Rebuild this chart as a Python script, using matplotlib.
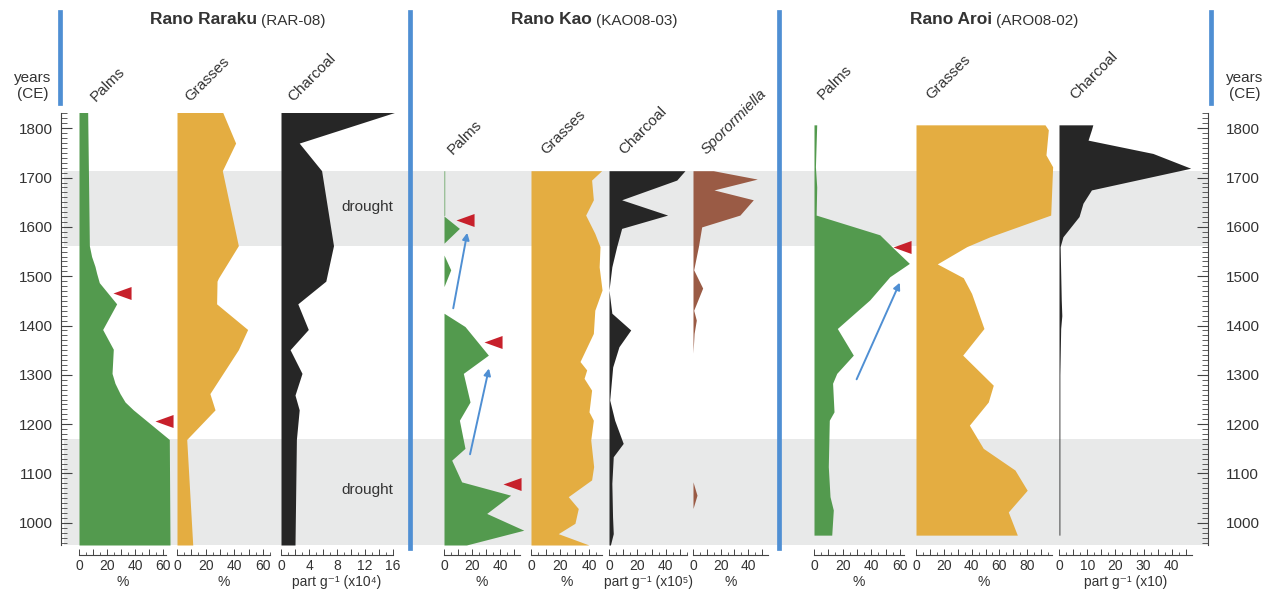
import numpy as np
import matplotlib.pyplot as plt
from matplotlib.lines import Line2D
from matplotlib.ticker import FuncFormatter

plt.rcParams['font.family'] = ['Liberation Sans', 'DejaVu Sans']

W, H = 1271, 591
YLIM = (955, 1831)

# Rano Raraku (RAR-08), years CE from top to bottom
rr_palm_yr = [1832, 1562, 1540, 1520, 1506, 1487, 1444, 1392, 1352, 1303, 1283, 1262, 1245, 1229, 1169, 955]
rr_palm = [6.2, 7.4, 9.0, 11.4, 12.6, 14.5, 26.9, 16.9, 24.5, 23.6, 25.7, 29.3, 32.9, 38.8, 64.5, 65.0]
rr_grass_yr = [1832, 1770, 1714, 1562, 1496, 1490, 1444, 1392, 1351, 1262, 1229, 1169, 955]
rr_grass = [32.0, 41.0, 31.7, 42.9, 28.9, 28.0, 27.7, 49.4, 42.9, 23.0, 26.6, 6.8, 11.0]
rr_char_yr = [1832, 1770, 1714, 1562, 1490, 1444, 1392, 1351, 1303, 1259, 1229, 1169, 955]
rr_char = [16.2, 2.6, 5.8, 7.5, 6.4, 2.4, 3.9, 1.3, 3.0, 2.0, 2.6, 2.2, 2.0]
rr_tri_yr = [1466, 1206]
rr_tri = [24.3, 54.3]

# Rano Kao (KAO08-03)
kao_palm_yr = [1714, 1624, 1622, 1597, 1567, 1543, 1513, 1479, 1425, 1398, 1340, 1303, 1245,
               1208, 1151, 1127, 1083, 1056, 1019, 985, 955]
kao_palm = [0.5, 0.5, 0, 11.0, 0, 0, 4.8, 0, 0, 15.0, 31.7, 13.8, 18.6,
            11.0, 15.0, 5.5, 12.6, 47.6, 30.5, 57.0, 16.0]
kao_grass_yr = [1714, 1695, 1655, 1624, 1587, 1560, 1519, 1472, 1431, 1384, 1327, 1310, 1293,
                1269, 1225, 1208, 1168, 1114, 1087, 1053, 1029, 999, 978, 955]
kao_grass = [48.7, 41.8, 43.0, 37.7, 44.0, 47.6, 47.0, 49.0, 44.0, 43.0, 33.8, 38.4, 36.6,
             41.8, 40.0, 43.0, 41.2, 43.2, 41.8, 25.7, 32.6, 30.3, 18.8, 40.0]
kao_char_yr = [1714, 1695, 1655, 1624, 1597, 1560, 1519, 1472, 1425, 1391, 1357, 1316, 1249,
               1208, 1161, 1134, 1080, 1012, 978, 955]
kao_char = [53.5, 47.7, 8.9, 41.3, 8.9, 5.4, 2.0, 0, 2.0, 15.3, 7.0, 2.6, 0.5,
            4.0, 10.0, 3.0, 2.0, 2.5, 3.0, 1.0]
kao_spor_yr = [1714, 1697, 1675, 1655, 1624, 1600, 1560, 1513, 1476, 1431, 1411, 1384, 1344,
               1083, 1056, 1029]
kao_spor = [14.7, 46.6, 15.2, 43.7, 34.0, 6.3, 3.9, 0.5, 7.0, 0.5, 2.4, 0.8, 0,
            0, 2.9, 0]
kao_tri_yr = [1615, 1367, 1078]
kao_tri = [8.6, 28.6, 42.1]
kao_arrows = [((6.6, 1435), (16.6, 1588)), ((18.6, 1139), (32.1, 1313))]

# Rano Aroi (ARO08-02)
aroi_palm_yr = [1807, 1722, 1681, 1624, 1584, 1557, 1526, 1499, 1452, 1394, 1340, 1303, 1283,
                1225, 1208, 1114, 1053, 1026, 975]
aroi_palm = [1.9, 1.0, 1.9, 1.5, 46.0, 55.5, 66.7, 53.0, 39.0, 16.3, 27.5, 15.9, 13.0,
             14.0, 10.7, 10.0, 11.2, 13.5, 12.4]
aroi_grass_yr = [1807, 1797, 1746, 1722, 1624, 1580, 1560, 1525, 1497, 1465, 1394, 1340, 1279,
                 1245, 1198, 1151, 1107, 1066, 1022, 975]
aroi_grass = [92.8, 95.2, 93.5, 98.3, 96.9, 53.2, 36.5, 15.3, 34.0, 40.0, 48.9, 33.6, 55.6,
              52.0, 38.4, 48.4, 71.2, 80.0, 66.4, 72.9]
aroi_char_yr = [1807, 1797, 1776, 1749, 1719, 1675, 1648, 1621, 1580, 1560, 1452, 1420, 1394, 1300, 975]
aroi_char = [12.0, 11.5, 10.3, 33.3, 46.7, 11.5, 8.5, 7.1, 1.4, 0.4, 0.8, 1.0, 0.6, 0.3, 0.3]
aroi_tri_yr = [1559]
aroi_tri = [55.2]
aroi_arrows = [((29.8, 1291), (60.0, 1487))]

droughts = [(1562, 1714), (YLIM[0], 1169)]

GREEN = '#539a4e'
ORANGE = '#e4ad41'
BLACK = '#262626'
BROWN = '#9a5b45'
RED = '#c7202b'
BLUE = '#4f8fd3'
BAND = '#e8e9e9'
TXT = '#333333'

TRI = [(0, 0), (1, 0.36), (1, -0.36), (0, 0)]

fig = plt.figure(figsize=(W / 100, H / 100), dpi=100)


def rect(x0, y0, x1, y1):
    return [x0 / W, 1 - y1 / H, (x1 - x0) / W, (y1 - y0) / H]


def ftext(x, y, s, **kw):
    kw.setdefault('color', TXT)
    return fig.text(x / W, 1 - y / H, s, **kw)


# shared age axis with drought bands
bg = fig.add_axes(rect(61, 113, 1208, 545))
bg.set_ylim(*YLIM)
bg.set_xlim(0, 1)
bg.set_xticks([])
for a, b in droughts:
    bg.axhspan(a, b, xmin=0.003, xmax=1.0, color=BAND, lw=0)
for s in ['top', 'bottom', 'right']:
    bg.spines[s].set_visible(False)
bg.spines['left'].set_color('#444444')
bg.set_yticks(np.arange(1000, 1801, 100))
bg.set_yticks(np.arange(960, 1831, 10), minor=True)
bg.tick_params(axis='y', which='major', direction='in', length=8, width=0.8, color='#444444',
               labelsize=11, labelcolor=TXT, pad=6)
bg.tick_params(axis='y', which='minor', direction='in', length=4, width=0.6, color='#444444')

rt = bg.twinx()
rt.set_ylim(*YLIM)
for s in ['top', 'bottom', 'left']:
    rt.spines[s].set_visible(False)
rt.spines['right'].set_color('#444444')
rt.set_yticks(np.arange(1000, 1801, 100))
rt.set_yticks(np.arange(960, 1831, 10), minor=True)
rt.tick_params(axis='y', which='major', direction='in', length=8, width=0.8, color='#444444',
               labelsize=11, labelcolor=TXT, pad=13)
rt.tick_params(axis='y', which='minor', direction='in', length=4, width=0.6, color='#444444')


def column(x0, scale, end, yrs, vals, color, major, minor, step, unit):
    ax = fig.add_axes(rect(x0, 113, x0 + scale * end, 545))
    ax.fill_betweenx(yrs, 0, vals, color=color, lw=0, clip_on=False)
    ax.set_xlim(0, end)
    ax.set_ylim(*YLIM)
    ax.patch.set_visible(False)
    for s in ['top', 'left', 'right']:
        ax.spines[s].set_visible(False)
    ax.spines['bottom'].set_position(('outward', 7.2))
    ax.spines['bottom'].set_bounds(0, end)
    ax.spines['bottom'].set_color('#444444')
    ax.spines['bottom'].set_linewidth(0.8)
    ax.set_yticks([])
    ax.set_xticks(np.arange(0, end + 1e-6, major))
    ax.set_xticks(np.arange(0, end + 1e-6, minor), minor=True)
    ax.xaxis.set_major_formatter(FuncFormatter(
        lambda v, p: '%d' % round(v) if abs(v / step - round(v / step)) < 1e-6 else ''))
    ax.tick_params(axis='x', which='major', direction='in', length=4, width=0.7,
                   color='#444444', labelsize=10, labelcolor=TXT, pad=3)
    ax.tick_params(axis='x', which='minor', direction='in', length=2, width=0.6, color='#444444')
    ftext(x0 + scale * end / 2, 582, unit, fontsize=10, ha='center', va='center')
    return ax


def markers(ax, yrs, vals, arrows=()):
    ax.plot(vals, yrs, ls='none', marker=TRI, ms=26, color=RED, mec='none', clip_on=False)
    for start, end in arrows:
        ax.annotate('', xy=end, xytext=start, annotation_clip=False,
                    arrowprops=dict(arrowstyle='-|>', color=BLUE, lw=1.4,
                                    mutation_scale=10, shrinkA=0, shrinkB=0))


# Rano Raraku
ax = column(79, 1.40, 62, rr_palm_yr, rr_palm, GREEN, 10, 5, 20, '%')
markers(ax, rr_tri_yr, rr_tri)
column(177, 1.43, 65, rr_grass_yr, rr_grass, ORANGE, 10, 5, 20, '%')
column(281, 7.0, 16, rr_char_yr, rr_char, BLACK, 2, 1, 4, 'part g⁻¹ (x10⁴)')

# Rano Kao
ax = column(444, 1.40, 54, kao_palm_yr, kao_palm, GREEN, 10, 5, 20, '%')
markers(ax, kao_tri_yr, kao_tri, kao_arrows)
column(531, 1.45, 49, kao_grass_yr, kao_grass, ORANGE, 10, 5, 20, '%')
column(609, 1.42, 55, kao_char_yr, kao_char, BLACK, 10, 5, 20, 'part g⁻¹ (x10⁵)')
column(693, 1.38, 54, kao_spor_yr, kao_spor, BROWN, 10, 5, 20, '%')

# Rano Aroi
ax = column(814, 1.43, 63, aroi_palm_yr, aroi_palm, GREEN, 10, 5, 20, '%')
markers(ax, aroi_tri_yr, aroi_tri, aroi_arrows)
column(916, 1.39, 98, aroi_grass_yr, aroi_grass, ORANGE, 10, 5, 20, '%')
column(1059, 2.82, 47, aroi_char_yr, aroi_char, BLACK, 5, 2.5, 10, 'part g⁻¹ (x10)')

# site separators
for x, y0, y1 in [(59.5, 12, 103), (410, 12, 548), (779, 12, 548), (1210.5, 12, 103)]:
    fig.add_artist(Line2D([x / W, x / W], [1 - y0 / H, 1 - y1 / H], lw=3.4, color=BLUE))

# site titles
for split, name, core in [(259.5, 'Rano Raraku', '(RAR-08)'),
                          (594, 'Rano Kao', '(KAO08-03)'),
                          (994, 'Rano Aroi', '(ARO08-02)')]:
    ftext(split - 2, 20, name, fontsize=12.5, fontweight='bold', ha='right', va='center')
    ftext(split + 2, 21, core, fontsize=11, ha='left', va='center')

# column headers
headers = [(96, 102, 'Palms', 'normal'), (190, 102, 'Grasses', 'normal'), (293, 102, 'Charcoal', 'normal'),
           (453, 155, 'Palms', 'normal'), (546, 155, 'Grasses', 'normal'), (624, 155, 'Charcoal', 'normal'),
           (706, 155, 'Sporormiella', 'italic'),
           (823, 100, 'Palms', 'normal'), (931, 100, 'Grasses', 'normal'), (1075, 100, 'Charcoal', 'normal')]
for x, y, s, style in headers:
    ftext(x, y, s, fontsize=11, style=style, rotation=45, rotation_mode='anchor',
          ha='left', va='baseline')

ftext(33, 86, 'years\n(CE)', fontsize=11, ha='center', va='center', linespacing=1.1)
ftext(1245, 86, 'years\n(CE)', fontsize=11, ha='center', va='center', linespacing=1.1)

ftext(367, 207, 'drought', fontsize=11, ha='center', va='center')
ftext(367, 490, 'drought', fontsize=11, ha='center', va='center')

fig.savefig('out.png', dpi=100)
